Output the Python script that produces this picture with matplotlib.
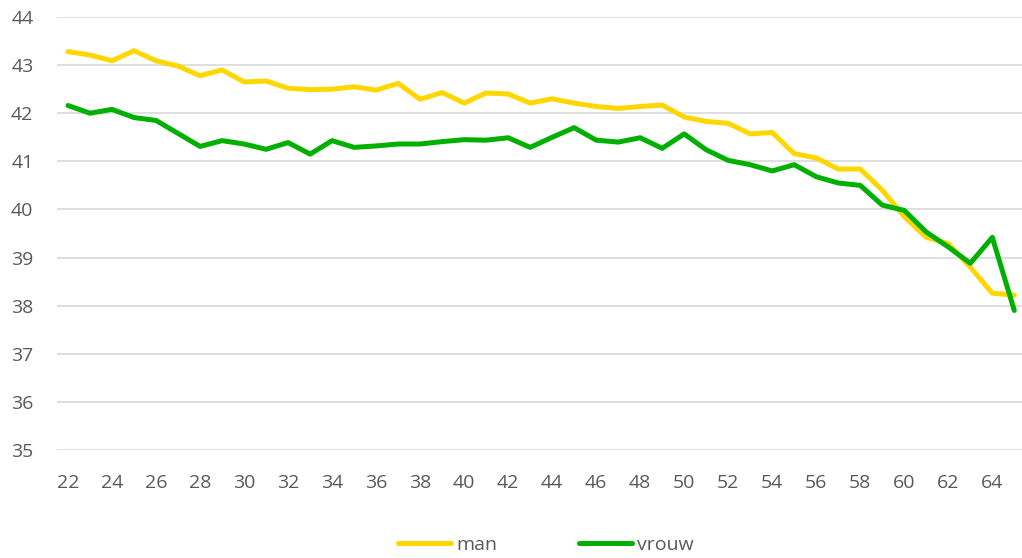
import matplotlib
matplotlib.use("Agg")
import matplotlib.pyplot as plt

# ages on the x axis
ages = list(range(22, 66))

man = [43.28, 43.21, 43.09, 43.30, 43.09, 42.98, 42.78, 42.90, 42.65, 42.67,
       42.52, 42.49, 42.50, 42.55, 42.48, 42.62, 42.29, 42.43, 42.21, 42.42,
       42.40, 42.21, 42.30, 42.21, 42.14, 42.10, 42.14, 42.17, 41.92, 41.83,
       41.79, 41.57, 41.60, 41.16, 41.07, 40.84, 40.84, 40.40, 39.85, 39.42,
       39.29, 38.80, 38.26, 38.22]

vrouw = [42.16, 42.00, 42.08, 41.91, 41.85, 41.58, 41.31, 41.43, 41.36, 41.25,
         41.39, 41.15, 41.43, 41.29, 41.32, 41.36, 41.36, 41.41, 41.45, 41.44,
         41.49, 41.29, 41.50, 41.70, 41.44, 41.40, 41.49, 41.27, 41.57, 41.24,
         41.02, 40.93, 40.80, 40.93, 40.68, 40.55, 40.50, 40.09, 39.98, 39.53,
         39.22, 38.88, 39.42, 37.90]

y_ticks = list(range(35, 45))
x_ticks = list(range(22, 65, 2))

plt.rcParams["font.family"] = ["Open Sans", "DejaVu Sans"]
TXT = "#595959"

fig = plt.figure(figsize=(10.22, 5.58), dpi=100)
ax = fig.add_axes([57 / 1022, 108 / 558, 965 / 1022, 433 / 558])

ax.plot(ages, man, color="#FFD700", lw=3.6, solid_joinstyle="round",
        solid_capstyle="round", label="man")
ax.plot(ages, vrouw, color="#00B000", lw=3.6, solid_joinstyle="round",
        solid_capstyle="round", label="vrouw")

ax.set_xlim(21.5, 65.35)
ax.set_ylim(35, 44)
ax.set_yticks(y_ticks)
ax.set_xticks(x_ticks)
ax.yaxis.grid(True, color="#D9D9D9", lw=1.2)
ax.set_axisbelow(True)
for s in ax.spines.values():
    s.set_visible(False)
ax.tick_params(axis="both", length=0, labelsize=14, labelcolor=TXT)
ax.tick_params(axis="x", pad=17)
ax.tick_params(axis="y", pad=17)

fig.legend(loc="center", bbox_to_anchor=(546 / 1022, 13 / 558), ncol=2,
           frameon=False, fontsize=14, labelcolor=TXT, handlelength=2.75,
           handletextpad=0.25, columnspacing=4.2, borderpad=0)

fig.savefig("out.png", dpi=100)
